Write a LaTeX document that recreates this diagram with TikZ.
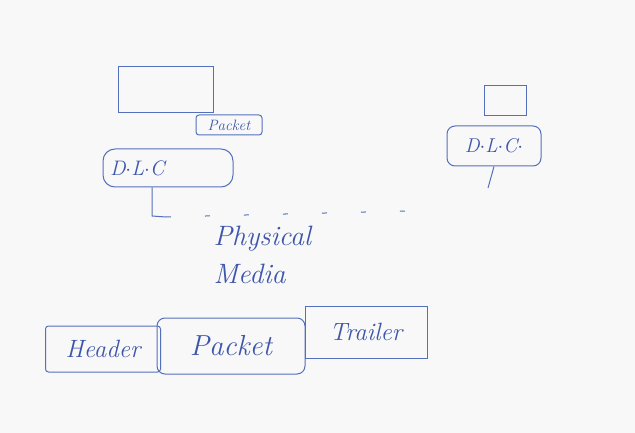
\documentclass[tikz,border=0pt]{standalone}
\usetikzlibrary{calc}
\definecolor{ink}{RGB}{84,112,188}
\definecolor{inktext}{RGB}{62,86,170}
\definecolor{board}{RGB}{248,248,248}
\begin{document}
\begin{tikzpicture}[x=1pt,y=-1pt,
  box/.style={draw=ink, line width=1pt, inner sep=0pt},
  handtxt/.style={text=inktext, font=\itshape},
  wire/.style={draw=ink, line width=1pt}]
\fill[board] (0,0) rectangle (635,433);
\useasboundingbox (0,0) rectangle (635,433);
% left stack
\node[box, minimum width=95pt, minimum height=46pt] (box1) at (166,90) {};
\node[box, rounded corners=3pt, minimum width=66pt, minimum height=20pt, handtxt, font=\itshape\fontsize{15}{16}\selectfont] (pk) at (229,125) {Packet};
\node[box, rounded corners=12pt, minimum width=130pt, minimum height=38pt, handtxt, font=\itshape\fontsize{21}{22}\selectfont, text width=116pt, align=left] (dlc1) at (168,168) {D$\cdot$L$\cdot$C};
\coordinate (c1) at (152,216);
\coordinate (c2) at (166,217);
\coordinate (pm) at (405,211);
\draw[wire] (dlc1.south -| c1) -- (c1) -- (c2);
\draw[wire, dash pattern=on 5pt off 34pt] (c2) -- (pm);
\node[handtxt, font=\itshape\fontsize{28}{38}\selectfont, align=left, anchor=north west] (phys) at (210,223) {Physical\\Media};
% right stack
\node[box, minimum width=42pt, minimum height=30pt] (box2) at (505,101) {};
\node[box, rounded corners=8pt, minimum width=94pt, minimum height=40pt, handtxt, font=\itshape\fontsize{20}{22}\selectfont] (dlc2) at (494,146) {D$\cdot$L$\cdot$C$\cdot$};
\coordinate (c3) at (488,188);
\draw[wire] (dlc2.south) -- (c3);
% frame
\node[box, rounded corners=3pt, minimum width=115pt, minimum height=46pt, handtxt, font=\itshape\fontsize{25}{27}\selectfont] (hdr) at (103,349) {Header};
\node[box, rounded corners=8pt, minimum width=148pt, minimum height=56pt, handtxt, font=\itshape\fontsize{29}{31}\selectfont] (pkt) at (231,346) {Packet};
\node[box, minimum width=122pt, minimum height=52pt, handtxt, font=\itshape\fontsize{25}{27}\selectfont] (trl) at (366,332) {Trailer};
\end{tikzpicture}
\end{document}
